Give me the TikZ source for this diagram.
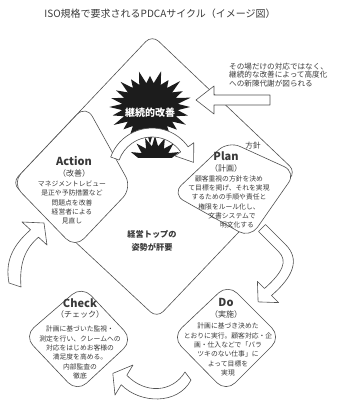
\documentclass[tikz,border=0pt]{standalone}
\usepackage{fontspec}
\setmainfont{Noto Sans CJK JP}
\definecolor{inkgray}{HTML}{3A3A3A}
\definecolor{linegray}{HTML}{505050}
\definecolor{burst}{HTML}{1C1C1C}

\begin{document}
\begin{tikzpicture}[x=1pt, y=-1pt, line join=round,
  outline/.style={draw=linegray, line width=0.6pt, rounded corners=#1},
  outline/.default=10pt,
  pdcabox/.style={outline=13pt, fill=white},
  blockarrow/.style={draw=linegray, line width=0.6pt, fill=white},
  headtext/.style={font=\fontsize{11}{12}\selectfont\bfseries, text=inkgray, inner sep=0pt},
  subtext/.style={font=\fontsize{8}{9}\selectfont, text=inkgray, inner sep=0pt},
  bodytext/.style={font=\fontsize{6.8}{9.3}\selectfont, text=inkgray, align=center, inner sep=0pt},
  notetext/.style={font=\fontsize{7.6}{8.7}\selectfont, text=inkgray, align=left, inner sep=0pt}
]
\useasboundingbox (0,0) rectangle (337,415);

% Title
\node[font=\fontsize{10}{12}\selectfont, text=inkgray] (title) at (160,14) {ISO規格で要求されるPDCAサイクル（イメージ図）};

% Big diamond
\draw[outline=9pt] (152,35) -- (296,172) -- (157,318) -- (12,183) -- cycle;

% PDCA boxes
\draw[pdcabox] (86,105) -- (132,188) -- (75,248) -- (12,183) -- cycle;   % Action
\draw[pdcabox] (228,141) -- (296,172) -- (250,238) -- (172,194) -- cycle; % Plan
\draw[pdcabox] (228,284) -- (281,337) -- (226,392) -- (172,337) -- cycle; % Do
\draw[pdcabox] (82,286) -- (133,340) -- (77,392) -- (24,336) -- cycle;    % Check

% Starburst
\fill[burst] plot[samples at={0,...,47}, variable=\k]
  ({150+(mod(\k,2)==0 ? 40+3*sin(\k*97) : 28)*cos(\k*7.5)},
   {107+(mod(\k,2)==0 ? 34+3*sin(\k*97) : 24)*sin(\k*7.5)}) -- cycle;
\node[font=\fontsize{10}{12}\selectfont\bfseries, text=white] (kaizen) at (150,113) {継続的改善};

% half burst under the arc
\begin{scope}
  \clip (125,120) rectangle (182,157);
  \fill[burst] plot[samples at={0,...,31}, variable=\k]
    ({155+(mod(\k,2)==0 ? 26 : 16)*cos(\k*11.25)},
     {162+(mod(\k,2)==0 ? 26 : 16)*sin(\k*11.25)}) -- cycle;
\end{scope}

% Block arrows
\draw[blockarrow] (110.7,157) arc[start angle=200, end angle=325, radius=44]
  -- (193.8,142.7) -- (193.6,162.4) -- (174.9,155.9) -- (180.7,151.9)
  arc[start angle=325, end angle=200, radius=35] -- cycle;
\draw[blockarrow] (270,95) -- (214,95) -- (214,86) -- (196,100) -- (214,114) -- (214,105) -- (270,105) -- cycle;
\draw[blockarrow] (265.5,224.5) -- (285.5,244.5) .. controls (300,259) and (294,276) .. (271.5,295.5)
  -- (278.6,302.6) -- (258.1,301.9) -- (257.4,281.4) -- (264.5,288.5)
  .. controls (283,272) and (288,261) .. (278.5,251.5) -- (258.5,231.5) -- cycle;
\draw[blockarrow] (185,372) .. controls (172,393) and (145,394) .. (126.8,375.3)
  -- (133,365) -- (112.8,373.4) -- (115,395) -- (121.2,384.7)
  .. controls (140,404) and (178,405) .. (191,380) -- cycle;
\draw[blockarrow] (9,283) .. controls (5,262) and (12,246) .. (30.5,229.8)
  -- (22,222) -- (44,223) -- (47,245) -- (38.5,237.2)
  .. controls (26,248) and (19,262) .. (21,287) -- cycle;

% Notes
\node[notetext, anchor=west] (note) at (229,75) {その場だけの対応ではなく、\\継続的な改善によって高度化\\への新陳代謝が図られる};
\node[subtext, font=\fontsize{7.6}{9}\selectfont] (hoshin) at (253,146) {方針};
\node[font=\fontsize{8.2}{13}\selectfont\bfseries, text=inkgray, align=center] (leader) at (152,241) {経営トップの\\姿勢が肝要};

% Action
\node[headtext] (actHead) at (74,161) {Action};
\node[subtext] (actSub) at (74,173) {（改善）};
\node[bodytext] (actBody) at (72,202.5) {マネジメントレビュー\\是正や予防措置など\\問題点を改善\\経営者による\\見直し};

% Plan
\node[headtext] (planHead) at (226,156) {Plan};
\node[subtext] (planSub) at (226,168) {（計画）};
\node[bodytext] (planBody) at (229,202) {顧客重視の方針を決め\\て目標を掲げ、それを実現\\するための手順や責任と\\権限をルール化し、\\\hspace*{6pt}文書システムで\\\hspace*{16pt}明文化する};

% Do
\node[headtext] (doHead) at (226,302) {Do};
\node[subtext] (doSub) at (226,314) {（実施）};
\node[bodytext] (doBody) at (228,349.5) {計画に基づき決めた\\とおりに実行。顧客対応・企\\画・仕入などで「バラ\\ツキのない仕事」に\\よって目標を\\実現};

% Check
\node[headtext] (chkHead) at (80,303) {Check};
\node[subtext] (chkSub) at (80,314) {（チェック）};
\node[bodytext] (chkBody) at (80,352.5) {計画に基づいた監視・\\測定を行い、クレームへの\\対応をはじめお客様の\\満足度を高める。\\内部監査の\\徹底};

\end{tikzpicture}
\end{document}
